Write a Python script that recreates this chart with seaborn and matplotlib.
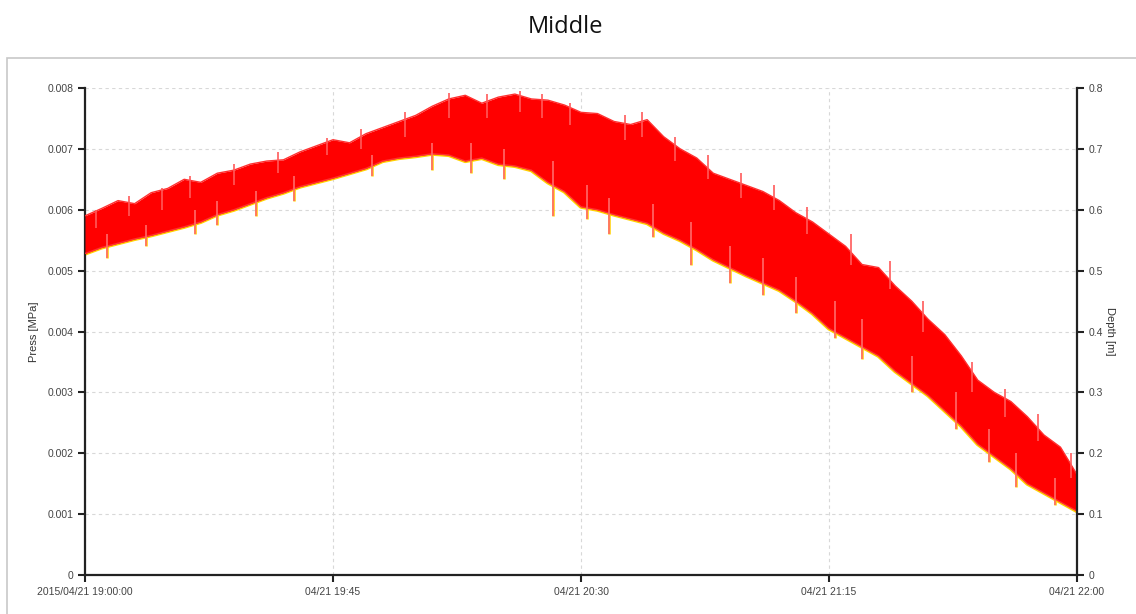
import matplotlib
matplotlib.use("Agg")
from matplotlib import pyplot as plt
from matplotlib.patches import Rectangle
import seaborn as sns
import pandas as pd
import numpy as np

# minutes after 2015/04/21 19:00, every 3 min
minutes = list(range(0, 181, 3))

press_upper = [0.00590, 0.00602, 0.00615, 0.00610, 0.00628, 0.00635, 0.00650, 0.00645,
               0.00660, 0.00665, 0.00675, 0.00680, 0.00682, 0.00695, 0.00705, 0.00715,
               0.00710, 0.00725, 0.00735, 0.00745, 0.00755, 0.00770, 0.00782, 0.00788,
               0.00775, 0.00785, 0.00790, 0.00782, 0.00780, 0.00772, 0.00760, 0.00758,
               0.00745, 0.00740, 0.00748, 0.00720, 0.00700, 0.00685, 0.00660, 0.00650,
               0.00640, 0.00630, 0.00615, 0.00595, 0.00580, 0.00560, 0.00540, 0.00510,
               0.00505, 0.00475, 0.00450, 0.00420, 0.00395, 0.00360, 0.00320, 0.00300,
               0.00285, 0.00260, 0.00230, 0.00210, 0.00165]

press_lower = [0.00528, 0.00538, 0.00545, 0.00552, 0.00558, 0.00565, 0.00572, 0.00580,
               0.00592, 0.00600, 0.00610, 0.00620, 0.00628, 0.00638, 0.00645, 0.00652,
               0.00660, 0.00668, 0.00680, 0.00685, 0.00688, 0.00692, 0.00690, 0.00680,
               0.00685, 0.00675, 0.00672, 0.00665, 0.00645, 0.00630, 0.00605, 0.00600,
               0.00592, 0.00585, 0.00578, 0.00562, 0.00550, 0.00535, 0.00518, 0.00505,
               0.00492, 0.00480, 0.00468, 0.00450, 0.00430, 0.00405, 0.00390, 0.00375,
               0.00360, 0.00335, 0.00315, 0.00295, 0.00270, 0.00245, 0.00215, 0.00195,
               0.00175, 0.00150, 0.00135, 0.00120, 0.00105]

# single downward spikes seen in the trace (bottom value, start inside the band)
down_minutes = [4, 11, 20, 24, 31, 38, 52, 63, 70, 76, 85, 91, 95, 103, 110, 117, 123,
                129, 136, 141, 150, 158, 164, 169, 176]
down_low = [0.00520, 0.00540, 0.00560, 0.00575, 0.00590, 0.00615, 0.00655, 0.00665,
            0.00660, 0.00650, 0.00590, 0.00585, 0.00560, 0.00555, 0.00510, 0.00480,
            0.00460, 0.00430, 0.00390, 0.00355, 0.00300, 0.00240, 0.00185, 0.00145, 0.00115]
down_high = [0.00560, 0.00575, 0.00600, 0.00615, 0.00630, 0.00655, 0.00690, 0.00710,
             0.00710, 0.00700, 0.00680, 0.00640, 0.00620, 0.00610, 0.00580, 0.00540,
             0.00520, 0.00490, 0.00450, 0.00420, 0.00360, 0.00300, 0.00240, 0.00200, 0.00160]

# single upward spikes along the top edge
up_minutes = [2, 8, 14, 19, 27, 35, 44, 50, 58, 66, 73, 79, 83, 88, 98, 101, 107, 113,
              119, 125, 131, 139, 146, 152, 161, 167, 173, 179]
up_high = [0.00600, 0.00622, 0.00635, 0.00655, 0.00675, 0.00695, 0.00718, 0.00732,
           0.00760, 0.00792, 0.00790, 0.00795, 0.00790, 0.00775, 0.00755, 0.00760,
           0.00720, 0.00690, 0.00660, 0.00640, 0.00605, 0.00560, 0.00515, 0.00450,
           0.00350, 0.00305, 0.00265, 0.00200]
up_low = [0.00570, 0.00590, 0.00600, 0.00620, 0.00640, 0.00660, 0.00690, 0.00700,
          0.00720, 0.00750, 0.00750, 0.00760, 0.00750, 0.00740, 0.00715, 0.00720,
          0.00680, 0.00650, 0.00620, 0.00600, 0.00560, 0.00510, 0.00470, 0.00400,
          0.00300, 0.00260, 0.00220, 0.00160]

xtick_minutes = [0, 45, 90, 135, 180]
xtick_labels = ["2015/04/21 19:00:00", "04/21 19:45", "04/21 20:30", "04/21 21:15", "04/21 22:00"]
left_ticks = [0, 0.001, 0.002, 0.003, 0.004, 0.005, 0.006, 0.007, 0.008]
left_labels = ["0", "0.001", "0.002", "0.003", "0.004", "0.005", "0.006", "0.007", "0.008"]
right_ticks = [0, 0.1, 0.2, 0.3, 0.4, 0.5, 0.6, 0.7, 0.8]
right_labels = ["0", "0.1", "0.2", "0.3", "0.4", "0.5", "0.6", "0.7", "0.8"]

start = pd.Timestamp("2015-04-21 19:00:00")
df = pd.DataFrame({
    "time": start + pd.to_timedelta(minutes, unit="min"),
    "upper": press_upper,
    "lower": press_lower,
})
down = pd.DataFrame({"time": start + pd.to_timedelta(down_minutes, unit="min"),
                     "low": down_low, "high": down_high})
up = pd.DataFrame({"time": start + pd.to_timedelta(up_minutes, unit="min"),
                   "low": up_low, "high": up_high})
xticks = start + pd.to_timedelta(xtick_minutes, unit="min")

sns.set_style("ticks")
plt.rcParams["font.family"] = ["Liberation Sans Narrow", "Liberation Sans", "DejaVu Sans"]

fig = plt.figure(figsize=(11.36, 6.14), dpi=100)
fig.patches.append(Rectangle((7 / 1136, -0.1), 1.2, 1 - 58 / 614 + 0.1, transform=fig.transFigure,
                             fill=False, edgecolor="#c8c8c8", linewidth=1.2))
fig.text(565 / 1136, 1 - 27 / 614, "Middle", ha="center", va="center", fontsize=17,
         family=["Open Sans", "DejaVu Sans"], color="#111111")

ax = fig.add_axes([85 / 1136, 1 - 575 / 614, 992 / 1136, 487 / 614])

# yellow depth trace peeking out under the pressure trace
sns.lineplot(data=df, x="time", y="lower", ax=ax, color="#ffd000", linewidth=3.0, zorder=2)
ax.vlines(down["time"], down["low"], down["high"], color="#ffd000", linewidth=1.8, zorder=2)
ax.fill_between(df["time"], df["lower"], df["upper"], color="#ff0000", linewidth=0, zorder=3)
sns.lineplot(data=df, x="time", y="upper", ax=ax, color="#ff3030", linewidth=1.0, zorder=3)
sns.lineplot(data=df, x="time", y="lower", ax=ax, color="#ff3030", linewidth=1.0, zorder=3)
ax.vlines(down["time"], down["low"], down["high"], color="#ff6a6a", linewidth=1.2, zorder=4)
ax.vlines(up["time"], up["low"], up["high"], color="#ff5a5a", linewidth=1.2, zorder=4)

ax.set_xlim(xticks[0], xticks[-1])
ax.set_ylim(0, 0.008)
ax.set_xticks(xticks)
ax.set_xticklabels(xtick_labels)
ax.set_yticks(left_ticks)
ax.set_yticklabels(left_labels)
ax.set_xlabel("")
ax.set_ylabel("Press [MPa]", fontsize=8, color="#333333")
ax.yaxis.set_label_coords(-0.046, 0.5)
ax.grid(True, linestyle=(0, (3, 3)), color="#d8d8d8", linewidth=0.8)
ax.set_axisbelow(True)
for s in ["left", "bottom"]:
    ax.spines[s].set_linewidth(1.6)
    ax.spines[s].set_color("#222222")
ax.spines["top"].set_visible(False)
ax.spines["right"].set_visible(False)
ax.tick_params(axis="both", labelsize=7.5, length=5, width=1.5, colors="#222222", labelcolor="#444444")

ax2 = ax.twinx()
ax2.set_ylim(0, 0.8)
ax2.set_yticks(right_ticks)
ax2.set_yticklabels(right_labels)
ax2.set_ylabel("Depth [m]", fontsize=8, color="#333333", rotation=270)
ax2.yaxis.set_label_coords(1.038, 0.5)
ax2.spines["right"].set_linewidth(1.6)
ax2.spines["right"].set_color("#222222")
for s in ["left", "bottom", "top"]:
    ax2.spines[s].set_visible(False)
ax2.tick_params(axis="y", labelsize=7.5, length=5, width=1.5, colors="#222222", labelcolor="#444444")

plt.savefig("out.png", dpi=100)
